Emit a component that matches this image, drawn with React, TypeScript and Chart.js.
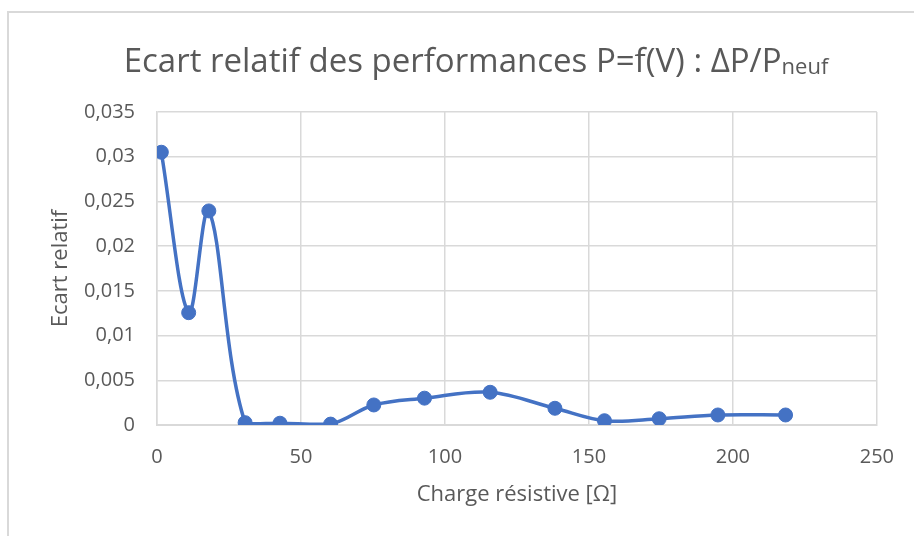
import React, { useEffect, useRef } from "react";
import { Chart, registerables } from "chart.js";

Chart.register(...registerables);

const titleMain = "Ecart relatif des performances P=f(V) : ΔP/P";
const titleSub = "neuf";
const xAxisTitle = "Charge résistive [Ω]";
const yAxisTitle = "Ecart relatif";

const xValues = [1.5, 11, 18, 30.6, 42.7, 60.3, 75.3, 92.9, 115.7, 138.2, 155.4, 174.4, 194.8, 218.3];
const yValues = [0.0305, 0.01256, 0.02394, 0.00026, 0.0002, 0.0001, 0.00224, 0.003, 0.00366, 0.00187, 0.00048, 0.0007, 0.00112, 0.00112];

const xTickValues = [0, 50, 100, 150, 200, 250];
const xTickLabels = ["0", "50", "100", "150", "200", "250"];
const yTickValues = [0, 0.005, 0.01, 0.015, 0.02, 0.025, 0.03, 0.035];
const yTickLabels = ["0", "0,005", "0,01", "0,015", "0,02", "0,025", "0,03", "0,035"];

const TEXT = "#595959";
const GRID = "#d9d9d9";
const BLUE = "#4472C4";
const FONT = "'Open Sans', 'Noto Sans', sans-serif";

const titlePlugin = {
  id: "subTitle",
  afterDraw(chart: any) {
    const ctx = chart.ctx;
    ctx.save();
    const size = 33;
    const subSize = 22;
    ctx.fillStyle = TEXT;
    ctx.textBaseline = "alphabetic";
    ctx.font = `${size}px ${FONT}`;
    const w1 = ctx.measureText(titleMain).width;
    ctx.font = `${subSize}px ${FONT}`;
    const w2 = ctx.measureText(titleSub).width;
    const total = w1 + w2;
    const cx = 476;
    const baseline = 72;
    const x0 = cx - total / 2;
    ctx.textAlign = "left";
    ctx.font = `${size}px ${FONT}`;
    ctx.fillText(titleMain, x0, baseline);
    ctx.font = `${subSize}px ${FONT}`;
    ctx.fillText(titleSub, x0 + w1, baseline + 2);
    ctx.restore();
  },
};

export default function App() {
  const ref = useRef<HTMLCanvasElement | null>(null);

  useEffect(() => {
    if (!ref.current) return;
    const chart = new Chart(ref.current, {
      type: "line",
      data: {
        datasets: [
          {
            data: xValues.map((x, i) => ({ x, y: yValues[i] })),
            borderColor: BLUE,
            backgroundColor: BLUE,
            borderWidth: 3.5,
            pointRadius: 7,
            pointHoverRadius: 7,
            pointBackgroundColor: BLUE,
            pointBorderColor: BLUE,
            pointBorderWidth: 1,
            tension: 0.35,
            fill: false,
          },
        ],
      },
      options: {
        responsive: false,
        animation: false,
        events: [],
        layout: { padding: { top: 112, right: 13, left: 0, bottom: 0 } },
        plugins: {
          legend: { display: false },
          title: { display: false },
          tooltip: { enabled: false },
        },
        scales: {
          x: {
            type: "linear",
            min: 0,
            max: 250,
            afterBuildTicks: (scale: any) => {
              scale.ticks = xTickValues.map((v) => ({ value: v }));
            },
            afterFit: (scale: any) => {
              scale.height = 111;
            },
            ticks: {
              color: TEXT,
              font: { family: FONT, size: 20 },
              padding: 20,
              maxRotation: 0,
              callback: (_v: any, i: number) => xTickLabels[i],
            },
            grid: { color: GRID, lineWidth: 1.5, drawTicks: false },
            border: { color: GRID, width: 2 },
            title: {
              display: true,
              text: xAxisTitle,
              color: TEXT,
              font: { family: FONT, size: 22 },
              padding: { top: 0, bottom: 28 },
            },
          },
          y: {
            type: "linear",
            min: 0,
            max: 0.035,
            afterBuildTicks: (scale: any) => {
              scale.ticks = yTickValues.map((v) => ({ value: v }));
            },
            afterFit: (scale: any) => {
              scale.width = 157;
            },
            ticks: {
              color: TEXT,
              font: { family: FONT, size: 20 },
              padding: 22,
              callback: (_v: any, i: number) => yTickLabels[i],
            },
            grid: { color: GRID, lineWidth: 1.5, drawTicks: false },
            border: { color: GRID, width: 1.5 },
            title: {
              display: true,
              text: yAxisTitle,
              color: TEXT,
              font: { family: FONT, size: 22 },
              padding: { top: 48, bottom: 0 },
            },
          },
        },
      },
      plugins: [titlePlugin],
    });
    return () => chart.destroy();
  }, []);

  return (
    <div style={{ position: "fixed", left: 0, top: 0, width: 914, height: 536, overflow: "hidden", background: "#fff" }}>
      <div
        style={{
          position: "absolute",
          left: 7,
          top: 11,
          width: 940,
          height: 560,
          border: "2px solid #d9d9d9",
          boxSizing: "border-box",
        }}
      />
      <canvas ref={ref} width={914} height={536} style={{ position: "absolute", left: 0, top: 0, width: 914, height: 536 }} />
    </div>
  );
}
